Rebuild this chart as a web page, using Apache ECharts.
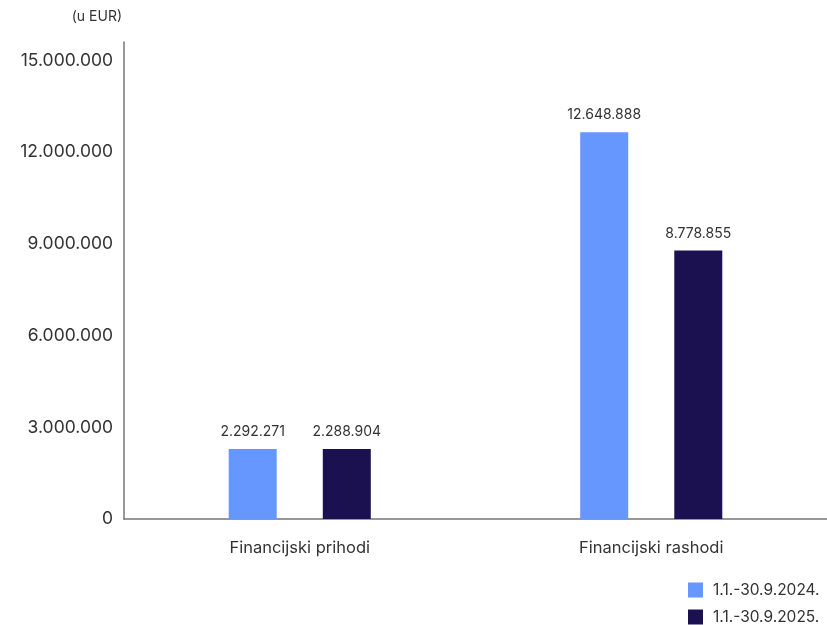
<!DOCTYPE html>
<html>
<head>
<meta charset="utf-8">
<script src="https://cdn.jsdelivr.net/npm/echarts@6/dist/echarts.min.js"></script>
<style>
  html, body { margin: 0; padding: 0; background: #fff; }
  #chart { width: 827px; height: 625px; }
</style>
</head>
<body>
<div id="chart"></div>
<script>
// data
const categories = ["Financijski prihodi", "Financijski rashodi"];
const seriesNames = ["1.1.-30.9.2024.", "1.1.-30.9.2025."];
const values2024 = [2292271, 12648888];
const values2025 = [2288904, 8778855];
const colors = ["#6696ff", "#1b1150"];

const fmt = v => String(v).replace(/\B(?=(\d{3})+(?!\d))/g, ".");
const font = "Inter, 'Noto Sans', sans-serif";

let chart = echarts.init(document.getElementById("chart"));
chart.setOption({
  animation: false,
  textStyle: { fontFamily: font },
  graphic: [{
    type: "text",
    right: 705,
    top: 10,
    style: { text: "(u EUR)", fontSize: 14, fill: "#333", fontFamily: font }
  }],
  legend: {
    orient: "vertical",
    left: 688,
    top: 582,
    padding: 0,
    itemWidth: 15,
    itemHeight: 15,
    itemGap: 11,
    icon: "rect",
    textStyle: { fontSize: 15.5, color: "#333", fontFamily: font, padding: [0, 0, 0, 5] },
    data: seriesNames
  },
  grid: { left: 124, right: 0, top: 42, bottom: 106, containLabel: false },
  xAxis: {
    type: "category",
    data: categories,
    axisLine: { lineStyle: { color: "#777", width: 1.5 } },
    axisTick: { show: false },
    axisLabel: { fontSize: 16.5, color: "#333", margin: 21, fontFamily: font }
  },
  yAxis: {
    type: "value",
    min: 0,
    max: 15600000,
    interval: 3000000,
    splitLine: { show: false },
    axisLine: { show: true, lineStyle: { color: "#777", width: 1.5 } },
    axisTick: { show: false },
    axisLabel: {
      fontSize: 17.5,
      color: "#333",
      margin: 11,
      fontFamily: font,
      padding: [0, 0, 6, 0],
      formatter: v => (v % 3000000 === 0 ? fmt(v) : "")
    }
  },
  series: [
    {
      name: seriesNames[0],
      type: "bar",
      data: values2024,
      barWidth: 48,
      barGap: "96%",
      itemStyle: { color: colors[0] },
      label: { show: true, position: "top", distance: 10, fontSize: 14, color: "#333", formatter: p => fmt(p.value) }
    },
    {
      name: seriesNames[1],
      type: "bar",
      data: values2025,
      barWidth: 48,
      itemStyle: { color: colors[1] },
      label: { show: true, position: "top", distance: 10, fontSize: 14, color: "#333", formatter: p => fmt(p.value) }
    }
  ]
});
</script>
</body>
</html>
